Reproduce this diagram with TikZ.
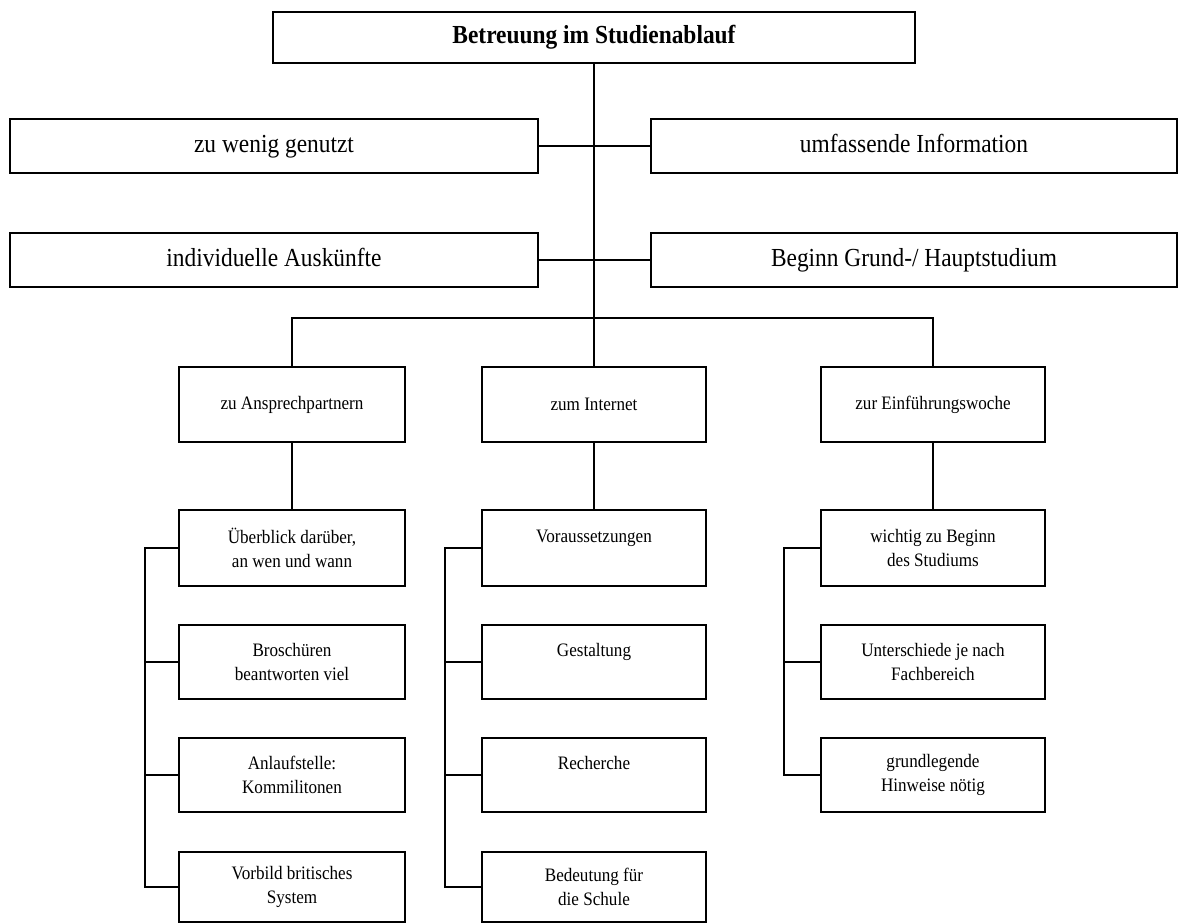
\documentclass[tikz,border=0pt]{standalone}
\usepackage{fontspec}
\setmainfont{Liberation Serif}[FakeStretch=0.9]
\begin{document}
\begin{tikzpicture}[x=1pt,y=-1pt,
  line width=2pt,
  box/.style={draw, rectangle, inner sep=0pt, minimum height=#1},
  big/.style={box=54pt, text height=18pt, text depth=5pt, font={\fontsize{26}{30}\selectfont}},
  small/.style={box=75pt, align=center, font={\fontsize{19}{24}\selectfont}},
]
\useasboundingbox (0,0) rectangle (1178,923);

% top
\node[box=51pt, minimum width=642pt, text height=18pt, text depth=5pt, font={\fontsize{26}{30}\selectfont\bfseries}] (top) at (594,37.5) {Betreuung im Studienablauf};

% rows of wide boxes
\node[big, minimum width=528pt] (a1) at (274,146) {zu wenig genutzt};
\node[big, minimum width=526pt] (a2) at (914,146) {umfassende Information};
\node[big, minimum width=528pt] (b1) at (274,260) {individuelle Auskünfte};
\node[big, minimum width=526pt] (b2) at (914,260) {Beginn Grund-/ Hauptstudium};

% level 3
\node[small, minimum width=226pt] (c1) at (292,404.5) {zu Ansprechpartnern};
\node[small, minimum width=224pt] (c2) at (594,404.5) {zum Internet};
\node[small, minimum width=224pt] (c3) at (933,404.5) {zur Einführungswoche};

% left column
\node[small, minimum width=226pt, minimum height=76pt] (l1) at (292,548) {Überblick darüber,\\an wen und wann};
\node[small, minimum width=226pt, minimum height=74pt] (l2) at (292,662) {Broschüren\\beantworten viel};
\node[small, minimum width=226pt, minimum height=74pt] (l3) at (292,775) {Anlaufstelle:\\Kommilitonen};
\node[small, minimum width=226pt, minimum height=70pt] (l4) at (292,887) {Vorbild britisches\\System};

% middle column
\node[small, minimum width=224pt, minimum height=76pt] (m1) at (594,548) {Voraussetzungen\\~};
\node[small, minimum width=224pt, minimum height=74pt] (m2) at (594,662) {Gestaltung\\~};
\node[small, minimum width=224pt, minimum height=74pt] (m3) at (594,775) {Recherche\\~};
\node[small, minimum width=224pt, minimum height=70pt] (m4) at (594,887) {Bedeutung für\\die Schule};

% right column
\node[small, minimum width=224pt, minimum height=76pt] (r1) at (933,548) {wichtig zu Beginn\\des Studiums};
\node[small, minimum width=224pt, minimum height=74pt] (r2) at (933,662) {Unterschiede je nach\\Fachbereich};
\node[small, minimum width=224pt, minimum height=74pt] (r3) at (933,775) {grundlegende\\Hinweise nötig};

% trunk and bus
\coordinate (bus) at (594,318);
\draw (top.south) -- (c2.north);
\draw (c1.north) |- (bus) -| (c3.north);
\draw (a1.east) -- (a2.west);
\draw (b1.east) -- (b2.west);

% level 3 to level 4
\draw (c1.south) -- (l1.north);
\draw (c2.south) -- (m1.north);
\draw (c3.south) -- (r1.north);

% brackets
\draw (l1.west) -- +(-33,0) |- (l4.west);
\draw (l2.west) -- +(-33,0);
\draw (l3.west) -- +(-33,0);

\draw (m1.west) -- +(-36,0) |- (m4.west);
\draw (m2.west) -- +(-36,0);
\draw (m3.west) -- +(-36,0);

\draw (r1.west) -- +(-36,0) |- (r3.west);
\draw (r2.west) -- +(-36,0);
\end{tikzpicture}
\end{document}
